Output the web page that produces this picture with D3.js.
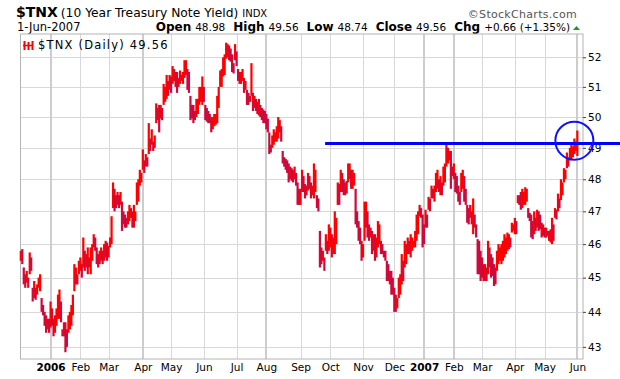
<!DOCTYPE html>
<html>
<head>
<meta charset="utf-8">
<script src="https://cdn.jsdelivr.net/npm/d3@7"></script>
<style>
  body { margin: 0; background: #fff; }
  svg { display: block; font-family: "DejaVu Sans", Verdana, sans-serif; }
</style>
</head>
<body>
<svg id="chart" width="620" height="379"></svg>
<script>
// daily bars, index 0 = 2-Dec-2005 ... 374 = 1-Jun-2007 (trading days)
var highs = [
  45.8,45.85,45.3,45.1,45.2,45.0,45.75,45.6,44.7,44.9,44.7,44.8,45.0,45.1,44.4,44.2,44.0,43.9,43.8,43.8,
  44.3,44.1,43.8,43.9,44.1,44.5,44.65,44.3,43.5,43.7,43.7,43.5,43.9,44.0,44.2,44.5,45.4,45.3,45.1,45.5,
  45.6,45.4,46.2,45.8,45.7,45.9,45.6,45.9,46.0,46.3,46.2,45.9,45.7,45.8,45.9,45.8,46.0,46.1,46.05,45.95,
  46.2,46.85,47.9,47.7,47.5,47.6,47.5,47.6,47.3,47.0,46.9,46.8,47.0,47.2,47.1,47.0,47.2,47.0,47.9,48.0,
  48.3,48.2,48.95,48.6,48.8,48.7,49.8,49.3,49.6,49.2,49.4,50.45,50.3,50.4,50.4,50.3,51.1,51.0,51.4,51.2,
  51.4,51.35,51.7,51.6,51.5,51.5,51.3,51.55,51.4,51.5,51.9,51.9,51.6,51.5,50.7,50.4,50.4,50.2,50.6,50.6,
  51.0,51.0,51.35,51.0,50.4,50.3,50.2,50.1,50.0,50.0,50.1,50.1,50.7,51.0,51.55,51.6,52.0,52.1,52.5,52.45,
  52.4,52.3,52.1,51.8,52.45,52.2,51.6,51.5,51.5,51.6,51.3,51.2,50.9,50.8,50.7,51.8,50.8,50.7,50.6,50.5,
  50.6,50.4,50.3,50.25,50.2,50.1,49.95,49.5,49.1,49.4,49.6,49.5,49.7,50.0,49.9,49.7,48.9,48.7,48.65,48.6,
  48.5,48.4,48.35,48.3,48.4,48.2,47.9,47.7,47.7,48.3,48.1,47.85,47.8,48.2,48.1,47.9,47.8,48.5,48.3,47.5,
  47.4,46.4,45.9,45.8,45.6,46.3,46.1,46.6,46.5,46.3,46.2,47.0,46.8,47.9,47.85,48.3,48.2,48.0,47.9,47.95,
  48.5,48.5,48.3,48.3,48.2,47.7,47.0,46.7,46.5,46.1,46.0,47.3,47.3,47.0,46.6,46.5,46.4,46.3,46.3,46.2,
  46.7,46.6,46.1,46.0,45.8,45.8,45.5,45.4,45.2,45.2,45.0,44.7,44.5,44.4,45.0,45.1,45.7,45.5,46.1,46.0,
  46.2,46.1,46.3,46.2,46.1,46.4,46.9,47.0,47.2,47.1,46.9,46.6,47.05,46.9,47.45,47.4,47.8,47.7,47.8,48.2,
  48.3,48.0,48.1,47.9,48.4,48.5,49.1,49.0,48.9,48.9,48.4,48.5,48.2,48.1,47.8,47.6,48.2,48.3,48.1,47.7,
  47.2,47.1,47.2,47.0,47.4,46.9,46.6,46.15,46.1,45.8,45.6,45.4,45.4,45.3,46.1,45.9,45.7,45.6,45.4,45.3,
  45.8,46.0,45.9,46.0,46.1,46.3,46.2,46.35,46.3,46.2,46.65,46.6,46.8,46.7,47.5,47.5,47.6,47.7,47.6,47.75,
  47.7,47.1,46.95,46.9,46.7,47.0,46.8,47.05,47.0,46.9,46.65,46.6,46.5,46.5,46.4,46.4,46.45,46.8,46.6,47.1,
  47.05,47.55,47.4,48.0,47.9,48.35,48.3,48.85,48.7,49.0,49.1,49.05,49.3,49.2,49.56
];
var lows = [
  45.5,45.4,44.8,44.7,44.85,44.7,45.1,45.2,44.3,44.4,44.35,44.5,44.7,44.6,44.0,43.9,43.6,43.4,43.5,43.4,
  43.55,43.6,43.3,43.4,43.6,43.8,43.8,43.7,43.3,43.3,42.85,43.0,43.4,43.5,43.6,43.9,44.6,44.8,44.8,45.1,
  45.2,45.0,45.3,45.2,45.3,45.1,45.3,45.1,45.5,45.9,45.8,45.4,45.3,45.4,45.5,45.4,45.5,45.6,45.5,45.6,
  45.9,46.0,47.1,47.0,47.1,47.2,47.1,47.2,46.4,46.6,46.5,46.5,46.6,46.7,46.8,46.5,46.5,46.7,47.2,47.3,
  47.8,47.9,48.3,48.2,48.4,48.4,48.8,48.9,49.1,48.9,49.0,49.8,49.9,49.5,49.95,49.9,50.4,50.5,50.6,50.7,
  50.9,50.8,51.1,51.2,51.0,50.8,51.0,51.1,51.2,51.1,51.3,51.4,50.9,50.8,49.9,49.95,49.8,49.9,50.0,50.1,
  50.4,50.5,50.4,50.5,49.9,49.85,49.8,49.8,49.5,49.6,49.7,49.75,49.8,50.3,51.0,51.0,51.35,51.4,51.95,52.0,
  51.9,51.85,51.5,51.45,51.9,51.7,51.2,51.1,51.1,51.2,50.8,50.9,50.4,50.4,50.5,50.7,50.2,50.3,50.2,50.1,
  50.05,50.0,49.9,49.8,49.8,49.6,49.5,48.8,48.85,49.0,49.1,49.2,49.2,49.3,49.5,49.2,48.5,48.4,48.3,48.2,
  47.9,48.0,47.95,47.9,48.0,47.8,47.2,47.2,47.2,47.6,47.6,47.4,47.5,47.65,47.7,47.4,47.5,47.4,47.6,47.1,
  47.0,45.3,45.4,45.5,45.2,45.8,45.7,45.8,45.9,45.6,45.7,45.7,46.0,47.2,47.2,47.6,47.6,47.5,47.5,47.55,
  47.9,48.0,47.7,47.7,47.8,46.6,46.5,46.1,46.0,45.5,45.6,46.1,46.5,46.2,46.1,46.2,45.7,45.8,45.5,45.6,
  45.9,46.0,45.7,45.7,45.6,45.5,44.9,44.9,44.8,44.5,44.5,44.0,44.0,44.1,44.4,44.5,44.8,44.9,45.3,45.4,
  45.7,45.7,45.6,45.8,45.9,45.9,46.1,46.3,46.85,46.8,45.9,46.0,46.5,46.5,47.05,47.0,47.4,47.4,47.3,47.6,
  47.7,47.6,47.5,47.5,47.8,47.9,48.4,48.5,48.6,47.7,48.1,48.0,47.6,47.55,47.3,47.2,47.6,47.7,47.3,47.2,
  46.65,46.6,46.8,46.6,46.3,46.5,46.2,45.1,45.1,44.9,45.0,44.9,44.9,44.9,45.1,45.3,45.0,45.05,44.75,44.8,
  45.2,45.4,45.5,45.4,45.5,45.6,45.7,45.8,45.85,45.9,46.35,46.4,46.3,46.3,47.25,47.2,47.05,47.1,47.2,47.2,
  47.3,46.8,46.7,46.2,46.15,46.3,46.4,46.5,46.4,46.45,46.2,46.25,46.2,46.2,46.25,46.1,46.05,46.0,46.1,46.8,
  46.75,47.0,47.1,47.35,47.5,47.9,48.0,48.35,48.4,48.6,48.6,48.7,48.8,48.9,48.74
];

// month labels and the trading-day index of each month's first session
var monthNames = ["2006","Feb","Mar","Apr","May","Jun","Jul","Aug","Sep","Oct","Nov","Dec",
                  "2007","Feb","Mar","Apr","May","Jun"];
var monthStarts = [20,40,59,82,101,123,145,165,188,208,230,251,271,291,310,332,352,374];

var yTicks = [43,44,45,46,47,48,49,50,51,52];

// quote line
var lastDate = "1-Jun-2007";
var quoteLabels = ["Open", "High", "Low", "Close", "Chg"];
var quoteValues = ["48.98", "49.56", "48.74", "49.56", "+0.66 (+1.35%)"];

// annotations: resistance line and highlight circle
var resistLevel = 49.14, resistStart = 204.5;
var circleDay = 372, circleLevel = 49.23;

var svg = d3.select("#chart");

var plot = {left: 20.5, right: 583, top: 34, bottom: 359};

var x = d3.scaleLinear().domain([-0.2, 377.8]).range([plot.left, plot.right]);
var y = d3.scaleLog().domain([42.66, 52.8]).range([plot.bottom, plot.top]);

// header
var head = svg.append("text").attr("x", 16).attr("y", 17).attr("fill", "#000");
head.append("tspan").attr("font-size", "14px").attr("font-weight", "bold").text("$TNX");
head.append("tspan").attr("font-size", "12.3px").attr("dx", 3).text("(10 Year Treasury Note Yield)");
head.append("tspan").attr("font-size", "10px").attr("dx", 4).text("INDX");

svg.append("text")
    .attr("x", 577).attr("y", 18)
    .attr("text-anchor", "end")
    .attr("font-size", "11px")
    .attr("letter-spacing", "0.3px")
    .attr("fill", "#555")
    .text("\u00A9StockCharts.com");

svg.append("text")
    .attr("x", 17).attr("y", 31)
    .attr("font-size", "11.5px")
    .text(lastDate);

var q = svg.append("text")
    .attr("x", 570).attr("y", 31)
    .attr("text-anchor", "end")
    .attr("font-size", "10.5px");
quoteLabels.forEach(function(lab, k) {
  q.append("tspan").attr("font-weight", "bold").attr("font-size", "12px")
      .attr("dx", k ? 8 : 0).text(lab);
  q.append("tspan").attr("dx", 4).text(quoteValues[k]);
});
svg.append("path")
    .attr("d", "M573,30 L580,30 L576.5,26 Z")
    .attr("fill", "#2e8b3a");

// horizontal grid
svg.append("g").selectAll("line")
    .data(yTicks).enter().append("line")
    .attr("x1", plot.left).attr("x2", plot.right)
    .attr("y1", function(d) { return Math.round(y(d)) + 0.5; })
    .attr("y2", function(d) { return Math.round(y(d)) + 0.5; })
    .attr("stroke", "#d8d8d8").attr("stroke-width", 1);

// vertical grid at month starts
var heavy = [0, 3, 7, 12, 13, 17];
var isHeavy = function(k) { return heavy.indexOf(k) >= 0; };
svg.append("g").selectAll("line")
    .data(monthStarts).enter().append("line")
    .attr("x1", function(d, k) { return Math.round(x(d)) + (isHeavy(k) ? 0 : 0.5); })
    .attr("x2", function(d, k) { return Math.round(x(d)) + (isHeavy(k) ? 0 : 0.5); })
    .attr("y1", plot.top).attr("y2", plot.bottom)
    .attr("stroke", function(d, k) { return isHeavy(k) ? "#cdcdcd" : "#d8d8d8"; })
    .attr("stroke-width", function(d, k) { return isHeavy(k) ? 2 : 1; });

// frame
svg.append("rect")
    .attr("x", plot.left).attr("y", plot.top)
    .attr("width", plot.right - plot.left).attr("height", plot.bottom - plot.top)
    .attr("fill", "none").attr("stroke", "#b4b4b4").attr("stroke-width", 1);

// right axis
var yAxis = svg.append("g")
    .attr("transform", "translate(" + plot.right + ",0)")
    .call(d3.axisRight(y).tickValues(yTicks).tickFormat(d3.format("d")).tickSize(3).tickPadding(2));
yAxis.select(".domain").remove();
yAxis.selectAll("line").attr("stroke", "#444");
yAxis.selectAll("text").attr("font-family", "DejaVu Sans, Verdana, sans-serif")
    .attr("font-size", "10.5px").attr("fill", "#000");

// bottom month labels
var xAxis = svg.append("g")
    .attr("transform", "translate(0," + plot.bottom + ")")
    .call(d3.axisBottom(x).tickValues(monthStarts)
          .tickFormat(function(d, k) { return monthNames[k]; }).tickSize(0).tickPadding(5));
xAxis.select(".domain").remove();
xAxis.selectAll("text")
    .attr("font-family", "DejaVu Sans, Verdana, sans-serif")
    .attr("font-size", "10.5px").attr("fill", "#000")
    .attr("font-weight", function(d, k) { return (k === 0 || k === 12) ? "bold" : "normal"; });

// price bars
var bars = highs.map(function(h, i) { return {i: i, high: h, low: lows[i]}; });
svg.append("g").selectAll("rect")
    .data(bars).enter().append("rect")
    .attr("x", function(d) { return x(d.i) - 1.1; })
    .attr("width", 2.2)
    .attr("y", function(d) { return y(d.high); })
    .attr("height", function(d) { return Math.max(1, y(d.low) - y(d.high)); })
    .attr("fill", function(d) {
      if (d.i === 0) return "#ff0000";
      var prev = bars[d.i - 1];
      return (d.high + d.low) < (prev.high + prev.low) ? "#cc0a3c" : "#ff0000";
    });

// legend
var lg = svg.append("g").attr("transform", "translate(23,41)");
[0, 4, 8].forEach(function(dx, k) {
  lg.append("line").attr("x1", dx + 1.5).attr("x2", dx + 1.5)
      .attr("y1", k === 1 ? 1 : 0).attr("y2", 9)
      .attr("stroke", "#ff0000").attr("stroke-width", 2);
});
lg.append("line").attr("x1", 0).attr("x2", 10).attr("y1", 4.5).attr("y2", 4.5)
    .attr("stroke", "#ff0000").attr("stroke-width", 1.5);
svg.append("text")
    .attr("x", 38).attr("y", 49)
    .attr("font-size", "11.5px")
    .attr("letter-spacing", "1.2px")
    .text("$TNX (Daily) " + quoteValues[3]);

// annotations
svg.append("line")
    .attr("x1", x(resistStart)).attr("x2", 620)
    .attr("y1", y(resistLevel)).attr("y2", y(resistLevel))
    .attr("stroke", "#0000ff").attr("stroke-width", 3);
svg.append("circle")
    .attr("cx", x(circleDay)).attr("cy", y(circleLevel)).attr("r", 19)
    .attr("fill", "none").attr("stroke", "#1010ff").attr("stroke-width", 2);
</script>
</body>
</html>
